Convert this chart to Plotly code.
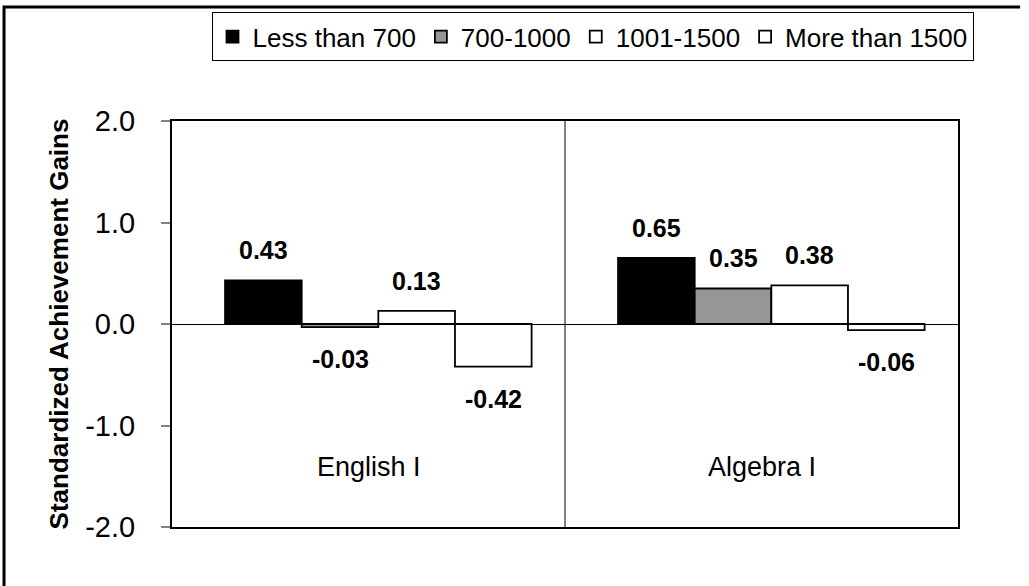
import plotly.graph_objects as go

categories = ["English I", "Algebra I"]
series_names = ["Less than 700", "700-1000", "1001-1500", "More than 1500"]
values = {
    "Less than 700": [0.43, 0.65],
    "700-1000": [-0.03, 0.35],
    "1001-1500": [0.13, 0.38],
    "More than 1500": [-0.42, -0.06],
}
y_ticks = [-2.0, -1.0, 0.0, 1.0, 2.0]

fills = ["#000000", "#969696", "#ffffff", "#ffffff"]
FONT = "Liberation Sans, Arial, sans-serif"

W = 0.195
SHIFT = 0.025
fig = go.Figure()
annotations = []
for j, name in enumerate(series_names):
    xs = [i + (j - 1.5) * W + SHIFT for i in range(len(categories))]
    ys = values[name]
    fig.add_trace(go.Bar(
        x=xs, y=ys, width=W, name=name,
        marker=dict(color=fills[j], line=dict(color="#000000", width=1.8)),
        hoverinfo="name+y",
    ))
    for x, y in zip(xs, ys):
        annotations.append(dict(
            x=x, y=y, xref="x", yref="y", text=f"<b>{y:.2f}</b>",
            showarrow=False, yshift=30 if y >= 0 else -32,
            font=dict(family=FONT, size=25, color="#000000"),
        ))

for i, c in enumerate(categories):
    annotations.append(dict(
        x=i, y=-1.41, xref="x", yref="y", text=c, showarrow=False,
        font=dict(family=FONT, size=27, color="#000000"),
    ))

shapes = [
    dict(type="line", xref="x", yref="paper", x0=0.5, x1=0.5, y0=0, y1=1,
         line=dict(color="#000000", width=1)),
    # outer chart border (open at right and bottom, as in the cropped original)
    dict(type="path", xref="paper", yref="paper",
         path="M 1.079 1.2808 L -0.2137 1.2808 L -0.2137 -0.2",
         layer="above", line=dict(color="#000000", width=3)),
]

fig.update_layout(
    width=1029, height=586,
    margin=dict(l=172, r=71, t=121, b=59),
    paper_bgcolor="#ffffff", plot_bgcolor="#ffffff",
    barmode="overlay",
    showlegend=True,
    legend=dict(
        orientation="h", x=0.535, y=1.268, xanchor="center", yanchor="top",
        bordercolor="#000000", borderwidth=1, bgcolor="#ffffff",
        font=dict(family=FONT, size=26, color="#000000"),
        itemwidth=30, traceorder="normal",
    ),
    xaxis=dict(
        range=[-0.5, 1.5], showticklabels=False, ticks="", showgrid=False,
        zeroline=False, showline=True, linecolor="#000000", linewidth=2,
        mirror=True, fixedrange=True,
    ),
    yaxis=dict(
        range=[-2, 2], tickvals=y_ticks, ticktext=[f"{v:.1f}" for v in y_ticks],
        ticks="outside", ticklen=9, tickcolor="#808080", tickwidth=1.5,
        ticklabelstandoff=20,
        showgrid=False, zeroline=True, zerolinecolor="#000000", zerolinewidth=1,
        showline=True, linecolor="#000000", linewidth=2, mirror=True,
        tickfont=dict(family=FONT, size=29, color="#000000"),
        title=dict(text="<b>Standardized Achievement Gains</b>", standoff=9,
                   font=dict(family=FONT, size=26, color="#000000")),
        fixedrange=True,
    ),
    annotations=annotations,
    shapes=shapes,
)

fig.write_html("out.html", config={"displayModeBar": False},
               post_script="document.body.style.margin='0';")
